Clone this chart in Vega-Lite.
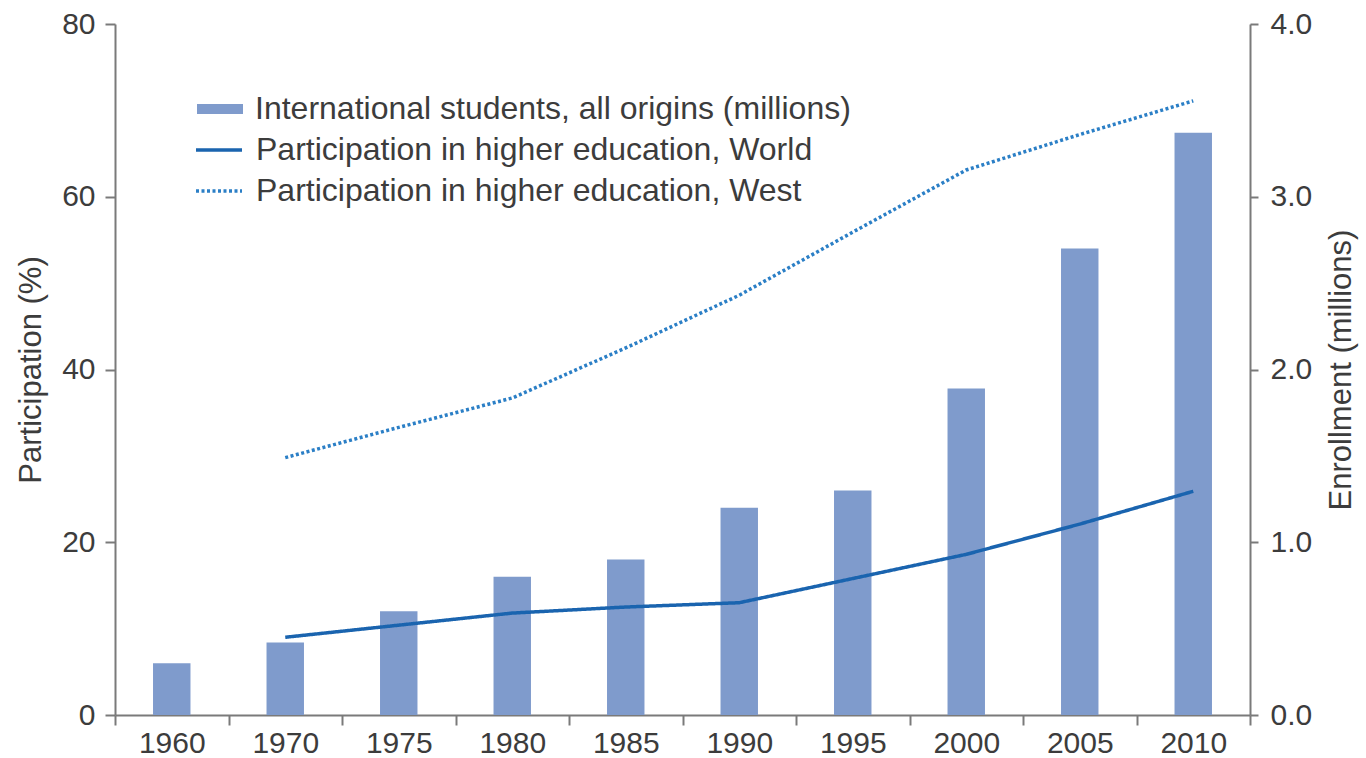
{
  "$schema": "https://vega.github.io/schema/vega-lite/v6.json",
  "width": 1135,
  "height": 691,
  "autosize": "none",
  "padding": {"left": 115, "top": 24, "right": 116, "bottom": 43},
  "background": "white",
  "config": {
    "font": "Liberation Sans",
    "view": {"stroke": null},
    "axis": {
      "labelFontSize": 30,
      "labelColor": "#3c3c3c",
      "domainColor": "#7a7a7a",
      "domainWidth": 2,
      "tickColor": "#7a7a7a",
      "tickWidth": 2,
      "grid": false,
      "titleFontSize": 31,
      "titleFontWeight": "normal",
      "titleColor": "#3c3c3c"
    },
    "legend": {
      "labelFontSize": 32,
      "labelColor": "#3c3c3c",
      "labelOffset": 12,
      "labelLimit": 1000,
      "rowPadding": -1,
      "title": null
    }
  },
  "datasets": {
    "students": [
      {"year": "1960", "students": 0.30},
      {"year": "1970", "students": 0.42},
      {"year": "1975", "students": 0.60},
      {"year": "1980", "students": 0.80},
      {"year": "1985", "students": 0.90},
      {"year": "1990", "students": 1.20},
      {"year": "1995", "students": 1.30},
      {"year": "2000", "students": 1.89},
      {"year": "2005", "students": 2.70},
      {"year": "2010", "students": 3.37}
    ],
    "participation": [
      {"year": "1970", "series": "Participation in higher education, World", "value": 9.0},
      {"year": "1975", "series": "Participation in higher education, World", "value": 10.4},
      {"year": "1980", "series": "Participation in higher education, World", "value": 11.8},
      {"year": "1985", "series": "Participation in higher education, World", "value": 12.5},
      {"year": "1990", "series": "Participation in higher education, World", "value": 13.0},
      {"year": "1995", "series": "Participation in higher education, World", "value": 15.8},
      {"year": "2000", "series": "Participation in higher education, World", "value": 18.6},
      {"year": "2005", "series": "Participation in higher education, World", "value": 22.1},
      {"year": "2010", "series": "Participation in higher education, World", "value": 25.9},
      {"year": "1970", "series": "Participation in higher education, West", "value": 29.8},
      {"year": "1975", "series": "Participation in higher education, West", "value": 33.3},
      {"year": "1980", "series": "Participation in higher education, West", "value": 36.7},
      {"year": "1985", "series": "Participation in higher education, West", "value": 42.5},
      {"year": "1990", "series": "Participation in higher education, West", "value": 48.6},
      {"year": "1995", "series": "Participation in higher education, West", "value": 55.9},
      {"year": "2000", "series": "Participation in higher education, West", "value": 63.1},
      {"year": "2005", "series": "Participation in higher education, West", "value": 67.2},
      {"year": "2010", "series": "Participation in higher education, West", "value": 71.1}
    ]
  },
  "layer": [
    {
      "data": {"name": "students"},
      "mark": {"type": "bar", "width": {"band": 0.33}},
      "encoding": {
        "x": {
          "field": "year", "type": "ordinal",
          "scale": {"paddingInner": 0, "paddingOuter": 0},
          "axis": {"title": null, "labelAngle": 0, "tickSize": 10, "labelPadding": 3, "tickBand": "extent"}
        },
        "y": {
          "field": "students", "type": "quantitative",
          "scale": {"domain": [0, 4]},
          "axis": {"orient": "right", "title": "Enrollment (millions)", "values": [0, 1, 2, 3, 4], "format": ".1f", "tickSize": 8, "labelPadding": 12, "titleAngle": 270, "titlePadding": 46}
        },
        "fill": {
          "datum": "International students, all origins (millions)",
          "type": "nominal",
          "scale": {"range": ["#7f9bcc"]},
          "legend": {
            "orient": "none", "legendX": 82, "legendY": 62,
            "symbolType": "M-1,-0.22H1V0.22H-1Z", "symbolSize": 2116, "symbolStrokeWidth": 0
          }
        }
      }
    },
    {
      "data": {"name": "participation"},
      "mark": {"type": "line", "strokeWidth": 3.5},
      "encoding": {
        "x": {"field": "year", "type": "ordinal"},
        "y": {
          "field": "value", "type": "quantitative",
          "scale": {"domain": [0, 80]},
          "axis": {"orient": "left", "title": "Participation (%)", "values": [0, 20, 40, 60, 80], "tickSize": 10, "labelPadding": 10, "titlePadding": 14}
        },
        "stroke": {
          "field": "series", "type": "nominal",
          "scale": {"domain": ["Participation in higher education, World", "Participation in higher education, West"], "range": ["#1a64af", "#2b7fc6"]},
          "legend": {
            "orient": "none", "legendX": 79, "legendY": 101,
            "symbolType": "M-1,0H1", "symbolSize": 2116, "symbolStrokeWidth": 3.5
          }
        },
        "strokeDash": {
          "field": "series", "type": "nominal",
          "scale": {"domain": ["Participation in higher education, World", "Participation in higher education, West"], "range": [[1, 0], [3, 2.5]]},
          "legend": {
            "orient": "none", "legendX": 79, "legendY": 101,
            "symbolType": "M-1,0H1", "symbolSize": 2116, "symbolStrokeWidth": 3.5
          }
        }
      }
    }
  ],
  "resolve": {"scale": {"y": "independent"}}
}
